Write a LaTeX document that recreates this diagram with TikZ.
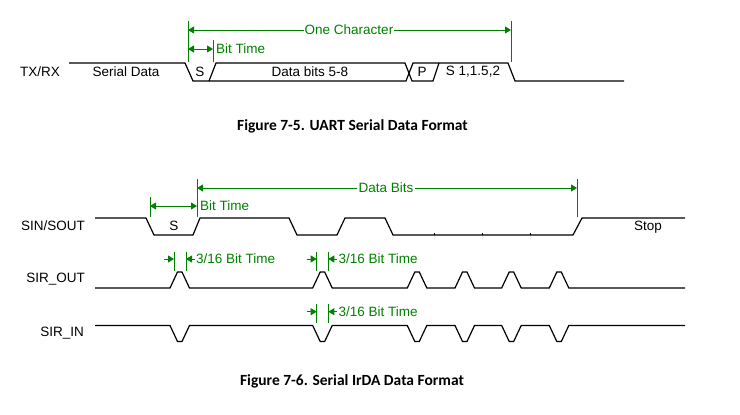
\documentclass[tikz,border=0pt]{standalone}
\usepackage{fontspec}
\setmainfont{Liberation Sans}
\newfontfamily\figcapfont{Carlito}
\usetikzlibrary{arrows.meta, positioning}
\definecolor{dimGreen}{HTML}{008000}
\tikzset{
  wave/.style={draw=black, line width=1.2pt, line join=miter},
  sigtext/.style={font=\fontsize{13.5}{16}\selectfont, inner sep=0pt},
  dimtext/.style={font=\fontsize{13.5}{16}\selectfont, text=dimGreen, inner sep=1pt},
  dimline/.style={draw=dimGreen, line width=0.9pt},
  dimarrow/.style={-{Triangle[length=6pt, width=7pt]}, dimGreen, line width=0.9pt},
  dimboth/.style={{Triangle[length=6pt, width=7pt]}-{Triangle[length=6pt, width=7pt]}, dimGreen, line width=0.9pt},
  figcap/.style={font=\figcapfont\bfseries\fontsize{15.5}{18}\selectfont, inner sep=0pt},
}
\begin{document}
\begin{tikzpicture}[x=1pt, y=-1pt]
    \useasboundingbox (0,0) rectangle (740,415);
    % UART frame
    \node[sigtext] (txrx) at (40,72) {TX/RX};
    \node[sigtext] (serial) at (126,72) {Serial Data};
    \node[sigtext] (startbit) at (200,72) {S};
    \node[sigtext] (databits) at (310,72) {Data bits 5-8};
    \node[sigtext] (parity) at (422,72) {P};
    \node[sigtext] (stopbits) at (473,72) {S 1,1.5,2};
    \draw[wave] (69,63) -- (185,63) -- (193,81) -- (406,81) -- (413,63) -- (508,63) -- (515,81) -- (624,81);
    \draw[wave] (209,81) -- (216,63) -- (405,63) -- (412,81) -- (433,81) -- (439,63);
    \draw[dimline] (188,21) -- (188,62); \draw[dimline] (213,40) -- (213,62); \draw[dimline] (511,21) -- (511,62);
    \node[dimtext] (onechar) at (349,30) {One Character};
    \node[dimtext, anchor=west] (bittime) at (215,49) {Bit Time};
    \coordinate (oc-l) at (188,30); \coordinate (oc-r) at (511,30);
    \coordinate (bt-l) at (188,49); \coordinate (bt-r) at (213,49);
    \draw[dimarrow] (onechar) -- (oc-l); \draw[dimarrow] (onechar) -- (oc-r); \draw[dimboth] (bt-l) -- (bt-r);
    \node[figcap] (cap5) at (352.5,126) {Figure 7-5. UART Serial Data Format};
    % IrDA frame
    \node[sigtext, anchor=east] (sinsout) at (85,226) {SIN/SOUT};
    \node[sigtext, anchor=east] (sirout) at (85,279) {SIR\_OUT};
    \node[sigtext, anchor=east] (sirin) at (84,333) {SIR\_IN};
    \node[sigtext] (irstart) at (174,226) {S};
    \node[sigtext] (irstop) at (648,227) {Stop};
    \draw[wave] (95,218) -- (146,218) -- (154,235) -- (193,235) -- (200,218) -- (289,218) -- (297,235) -- (337,235)
      -- (345,218) -- (385,218) -- (393,235) -- (573,235) -- (582,218) -- (685,218);
    \foreach \t in {434,482,530} \draw[line width=0.8pt] (\t,235) -- (\t,232.5);
    \draw[wave] (95,288) foreach \s in {170,312.7,407.3,455,501.7,549.3} { -- (\s,288) -- ++(7.5,-16) -- ++(4.5,0) -- ++(7.5,16) } -- (685,288);
    \draw[wave] (95,325.5) foreach \s in {170,312.7,407.3,455,501.7,549.3} { -- (\s,325.5) -- ++(7.5,16) -- ++(4.5,0) -- ++(7.5,-16) } -- (685,325.5);
    \draw[dimline] (150,197) -- (150,217); \draw[dimline] (197,179) -- (197,217); \draw[dimline] (577,179) -- (577,217);
    \node[dimtext] (databits2) at (386,188) {Data Bits};
    \node[dimtext, anchor=west] (bittime2) at (199,206) {Bit Time};
    \coordinate (db-l) at (197,188); \coordinate (db-r) at (577,188);
    \coordinate (bt2-l) at (150,206); \coordinate (bt2-r) at (197,206);
    \draw[dimarrow] (databits2) -- (db-l); \draw[dimarrow] (databits2) -- (db-r); \draw[dimboth] (bt2-l) -- (bt2-r);
    \foreach \a/\b/\y/\n in {174/186/259/1, 316.7/328.3/259/2, 316.7/328.3/311.7/3} {
      \draw[dimline] (\a,\y-7.4) -- (\a,\y+11.6); \draw[dimline] (\b,\y-7.4) -- (\b,\y+11.6);
      \coordinate (pw-l\n) at (\a-10,\y); \coordinate (pw-a\n) at (\a,\y); \coordinate (pw-b\n) at (\b,\y);
      \node[dimtext, anchor=west] (pulsew\n) at (\b+9,\y) {3/16 Bit Time};
      \draw[dimarrow] (pw-l\n) -- (pw-a\n); \draw[dimarrow] (pulsew\n) -- (pw-b\n);
    }
    \node[figcap] (cap6) at (352,381.7) {Figure 7-6. Serial IrDA Data Format};
  \end{tikzpicture}
\end{document}
